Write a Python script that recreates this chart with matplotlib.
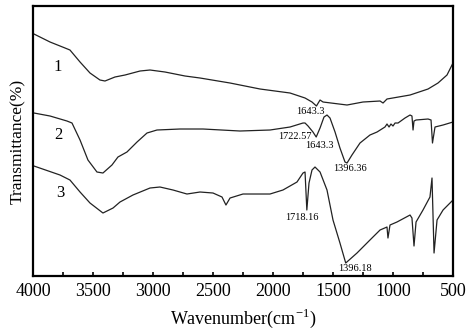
import numpy as np
import matplotlib
matplotlib.use('Agg')
import matplotlib.pyplot as plt
from matplotlib.ticker import MultipleLocator

plt.rcParams['font.family'] = ['Liberation Serif', 'DejaVu Serif']
plt.rcParams['mathtext.fontset'] = 'custom'
plt.rcParams['mathtext.rm'] = 'Liberation Serif'

# spectra (wavenumber, transmittance in arbitrary units)
wn1 = [3992, 3858, 3733, 3692, 3608, 3525, 3442, 3400, 3317, 3233, 3108, 3025, 2900, 2733,
       2608, 2358, 2108, 1858, 1733, 1675, 1638, 1608, 1583, 1383, 1250, 1108, 1083, 1050,
       858, 708, 625, 550, 500]
t1 = [242, 234, 228, 226, 214, 203, 196, 195, 199, 201, 205, 206, 204, 200,
      198, 193, 187, 183, 178, 174, 170, 176, 174, 171, 174, 175, 173, 177,
      181, 187, 193, 201, 213]

wn2 = [3992, 3858, 3717, 3675, 3608, 3542, 3467, 3417, 3342, 3292, 3217, 3133, 3050, 2967,
       2775, 2583, 2275, 2025, 1858, 1750, 1733, 1708, 1667, 1640, 1608, 1575, 1550, 1525,
       1483, 1442, 1400, 1383, 1342, 1275, 1192, 1133, 1067, 1050, 1033, 1017, 1000, 983,
       958, 900, 858, 842, 833, 825, 808, 708, 683, 671, 650, 583, 500]
t2 = [163, 160, 155, 153, 136, 116, 104, 103, 111, 119, 124, 134, 143, 146,
      147, 147, 145, 146, 149, 153, 153, 150, 144, 139, 148, 159, 161, 158,
      144, 128, 114, 113, 121, 133, 141, 144, 149, 152, 149, 152, 150, 153,
      153, 158, 161, 160, 146, 155, 156, 157, 156, 133, 149, 151, 154]

wn3 = [3992, 3775, 3692, 3608, 3525, 3417, 3333, 3275, 3167, 3025, 2942, 2833, 2717, 2608,
       2500, 2425, 2392, 2358, 2250, 2025, 1917, 1800, 1750, 1733, 1718, 1700, 1675, 1650,
       1608, 1550, 1500, 1442, 1394, 1300, 1192, 1108, 1050, 1042, 1025, 967, 858, 842,
       825, 808, 750, 692, 675, 658, 633, 583, 500]
t3 = [110, 101, 96, 84, 73, 63, 68, 74, 81, 88, 89, 86, 82, 84,
      83, 79, 71, 78, 82, 82, 86, 94, 103, 104, 66, 93, 106, 109,
      104, 86, 56, 33, 13, 23, 36, 46, 49, 38, 51, 54, 61, 58,
      30, 54, 66, 79, 98, 23, 56, 66, 76]

curve_labels = ['1', '2', '3']
curve_label_pos = [(3792, 209), (3792, 141), (3775, 83)]

peak_labels = ['1643.3', '1722.57', '1643.3', '1396.36', '1718.16', '1396.18']
peak_pos = [(1692, 165), (1817, 140), (1617, 131), (1358, 108), (1758, 59), (1317, 8)]

fig = plt.figure(figsize=(4.74, 3.30), dpi=100)
ax = fig.add_axes([0.0696, 0.1636, 0.8861, 0.8182])

for wn, t in [(wn1, t1), (wn2, t2), (wn3, t3)]:
    ax.plot(wn, t, color='#222222', lw=0.9, solid_joinstyle='round')

for lab, (x, y) in zip(curve_labels, curve_label_pos):
    ax.text(x, y, lab, fontsize=12, ha='center', va='center')
for lab, (x, y) in zip(peak_labels, peak_pos):
    ax.text(x, y, lab, fontsize=7.5, ha='center', va='center')

ax.set_xlim(4000, 500)
ax.set_ylim(0, 270)
ax.xaxis.set_major_locator(MultipleLocator(500))
ax.xaxis.set_minor_locator(MultipleLocator(250))
ax.tick_params(axis='x', which='both', direction='in', length=3, width=1.2, labelsize=13, pad=5)
ax.set_yticks([])
for s in ax.spines.values():
    s.set_linewidth(1.6)

ax.set_xlabel(r'Wavenumber(cm$^{\mathregular{-1}}$)', fontsize=13, labelpad=5)
ax.set_ylabel('Transmittance(%)', fontsize=12.5, labelpad=5)

fig.savefig('out.png', dpi=100)
